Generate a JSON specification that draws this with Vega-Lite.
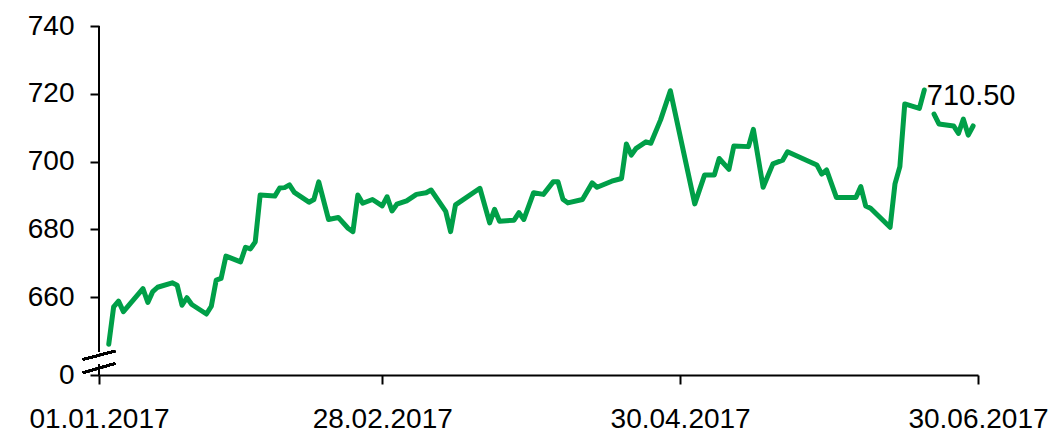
{
  "$schema": "https://vega.github.io/schema/vega-lite/v6.json",
  "width": 879,
  "height": 349,
  "autosize": {"type": "none"},
  "padding": {"left": 99, "top": 26, "right": 75, "bottom": 57},
  "background": "white",
  "config": {
    "view": {"stroke": null},
    "font": "Liberation Sans",
    "axis": {"grid": false, "title": null, "labelColor": "black", "labelFontSize": 28, "labelFont": "Liberation Sans", "tickColor": "black", "tickWidth": 2, "tickSize": 9, "domainColor": "black", "domainWidth": 2, "labelOverlap": false, "labelFlush": false}
  },
  "data": {"values": [
    {"date": "2017-01-03", "value": 646.1, "part": "A"},
    {"date": "2017-01-04", "value": 657.1, "part": "A"},
    {"date": "2017-01-05", "value": 658.8, "part": "A"},
    {"date": "2017-01-06", "value": 655.7, "part": "A"},
    {"date": "2017-01-10", "value": 662.5, "part": "A"},
    {"date": "2017-01-11", "value": 658.4, "part": "A"},
    {"date": "2017-01-12", "value": 661.6, "part": "A"},
    {"date": "2017-01-13", "value": 662.9, "part": "A"},
    {"date": "2017-01-16", "value": 664.2, "part": "A"},
    {"date": "2017-01-17", "value": 663.5, "part": "A"},
    {"date": "2017-01-18", "value": 657.6, "part": "A"},
    {"date": "2017-01-19", "value": 659.8, "part": "A"},
    {"date": "2017-01-20", "value": 657.8, "part": "A"},
    {"date": "2017-01-23", "value": 655.0, "part": "A"},
    {"date": "2017-01-24", "value": 657.3, "part": "A"},
    {"date": "2017-01-25", "value": 665.0, "part": "A"},
    {"date": "2017-01-26", "value": 665.5, "part": "A"},
    {"date": "2017-01-27", "value": 672.1, "part": "A"},
    {"date": "2017-01-30", "value": 670.4, "part": "A"},
    {"date": "2017-01-31", "value": 674.7, "part": "A"},
    {"date": "2017-02-01", "value": 674.2, "part": "A"},
    {"date": "2017-02-02", "value": 676.3, "part": "A"},
    {"date": "2017-02-03", "value": 690.1, "part": "A"},
    {"date": "2017-02-06", "value": 689.8, "part": "A"},
    {"date": "2017-02-07", "value": 692.2, "part": "A"},
    {"date": "2017-02-08", "value": 692.3, "part": "A"},
    {"date": "2017-02-09", "value": 693.1, "part": "A"},
    {"date": "2017-02-10", "value": 690.9, "part": "A"},
    {"date": "2017-02-13", "value": 688.0, "part": "A"},
    {"date": "2017-02-14", "value": 688.8, "part": "A"},
    {"date": "2017-02-15", "value": 694.0, "part": "A"},
    {"date": "2017-02-17", "value": 682.9, "part": "A"},
    {"date": "2017-02-19", "value": 683.5, "part": "A"},
    {"date": "2017-02-21", "value": 680.3, "part": "A"},
    {"date": "2017-02-22", "value": 679.3, "part": "A"},
    {"date": "2017-02-23", "value": 690.1, "part": "A"},
    {"date": "2017-02-24", "value": 687.7, "part": "A"},
    {"date": "2017-02-26", "value": 688.8, "part": "A"},
    {"date": "2017-02-28", "value": 686.9, "part": "A"},
    {"date": "2017-03-01", "value": 689.6, "part": "A"},
    {"date": "2017-03-02", "value": 685.4, "part": "A"},
    {"date": "2017-03-03", "value": 687.4, "part": "A"},
    {"date": "2017-03-05", "value": 688.4, "part": "A"},
    {"date": "2017-03-07", "value": 690.3, "part": "A"},
    {"date": "2017-03-09", "value": 690.8, "part": "A"},
    {"date": "2017-03-10", "value": 691.6, "part": "A"},
    {"date": "2017-03-13", "value": 685.3, "part": "A"},
    {"date": "2017-03-14", "value": 679.3, "part": "A"},
    {"date": "2017-03-15", "value": 687.2, "part": "A"},
    {"date": "2017-03-20", "value": 692.1, "part": "A"},
    {"date": "2017-03-22", "value": 681.9, "part": "A"},
    {"date": "2017-03-23", "value": 685.9, "part": "A"},
    {"date": "2017-03-24", "value": 682.4, "part": "A"},
    {"date": "2017-03-27", "value": 682.7, "part": "A"},
    {"date": "2017-03-28", "value": 684.9, "part": "A"},
    {"date": "2017-03-29", "value": 682.9, "part": "A"},
    {"date": "2017-03-31", "value": 690.8, "part": "A"},
    {"date": "2017-04-02", "value": 690.3, "part": "A"},
    {"date": "2017-04-04", "value": 694.0, "part": "A"},
    {"date": "2017-04-05", "value": 694.0, "part": "A"},
    {"date": "2017-04-06", "value": 688.9, "part": "A"},
    {"date": "2017-04-07", "value": 687.8, "part": "A"},
    {"date": "2017-04-10", "value": 688.8, "part": "A"},
    {"date": "2017-04-12", "value": 693.7, "part": "A"},
    {"date": "2017-04-13", "value": 692.4, "part": "A"},
    {"date": "2017-04-16", "value": 694.2, "part": "A"},
    {"date": "2017-04-18", "value": 695.0, "part": "A"},
    {"date": "2017-04-19", "value": 705.2, "part": "A"},
    {"date": "2017-04-20", "value": 701.9, "part": "A"},
    {"date": "2017-04-21", "value": 703.9, "part": "A"},
    {"date": "2017-04-23", "value": 705.8, "part": "A"},
    {"date": "2017-04-24", "value": 705.4, "part": "A"},
    {"date": "2017-04-26", "value": 712.3, "part": "A"},
    {"date": "2017-04-28", "value": 720.9, "part": "A"},
    {"date": "2017-05-03", "value": 687.5, "part": "A"},
    {"date": "2017-05-05", "value": 696.0, "part": "A"},
    {"date": "2017-05-07", "value": 696.0, "part": "A"},
    {"date": "2017-05-08", "value": 700.9, "part": "A"},
    {"date": "2017-05-10", "value": 697.7, "part": "A"},
    {"date": "2017-05-11", "value": 704.6, "part": "A"},
    {"date": "2017-05-14", "value": 704.4, "part": "A"},
    {"date": "2017-05-15", "value": 709.5, "part": "A"},
    {"date": "2017-05-17", "value": 692.4, "part": "A"},
    {"date": "2017-05-19", "value": 699.3, "part": "A"},
    {"date": "2017-05-21", "value": 700.4, "part": "A"},
    {"date": "2017-05-22", "value": 702.9, "part": "A"},
    {"date": "2017-05-28", "value": 699.0, "part": "A"},
    {"date": "2017-05-29", "value": 696.3, "part": "A"},
    {"date": "2017-05-30", "value": 697.5, "part": "A"},
    {"date": "2017-06-01", "value": 689.4, "part": "A"},
    {"date": "2017-06-05", "value": 689.4, "part": "A"},
    {"date": "2017-06-06", "value": 692.6, "part": "A"},
    {"date": "2017-06-07", "value": 686.9, "part": "A"},
    {"date": "2017-06-08", "value": 686.2, "part": "A"},
    {"date": "2017-06-12", "value": 680.6, "part": "A"},
    {"date": "2017-06-13", "value": 693.4, "part": "A"},
    {"date": "2017-06-14", "value": 698.5, "part": "A"},
    {"date": "2017-06-15", "value": 717.0, "part": "A"},
    {"date": "2017-06-18", "value": 715.7, "part": "A"},
    {"date": "2017-06-19", "value": 721.1, "part": "A"},
    {"date": "2017-06-21", "value": 714.0, "part": "B"},
    {"date": "2017-06-22", "value": 711.1, "part": "B"},
    {"date": "2017-06-25", "value": 710.5, "part": "B"},
    {"date": "2017-06-26", "value": 708.3, "part": "B"},
    {"date": "2017-06-27", "value": 712.5, "part": "B"},
    {"date": "2017-06-28", "value": 707.8, "part": "B"},
    {"date": "2017-06-29", "value": 710.5, "part": "B"}
  ]},
  "layer": [
    {
      "mark": {"type": "line", "color": "#009F48", "strokeWidth": 5, "strokeCap": "round", "strokeJoin": "round"},
      "encoding": {
        "x": {
          "field": "date", "type": "temporal",
          "scale": {"type": "utc", "domain": [{"year": 2017, "month": 1, "date": 1, "utc": true}, {"year": 2017, "month": 6, "date": 30, "utc": true}]},
          "axis": {
            "values": [{"year": 2017, "month": 1, "date": 1, "utc": true}, {"year": 2017, "month": 2, "date": 28, "utc": true}, {"year": 2017, "month": 4, "date": 30, "utc": true}, {"year": 2017, "month": 6, "date": 30, "utc": true}],
            "labelExpr": "utcFormat(datum.value, '%d.%m.%Y')", "labelPadding": 21, "labelBaseline": "top", "title": null
          }
        },
        "y": {
          "field": "value", "type": "quantitative",
          "scale": {"domain": [637, 740], "zero": false, "nice": false},
          "axis": {"values": [637, 660, 680, 700, 720, 740], "labelExpr": "datum.value == 637 ? '0' : datum.label", "domain": false, "labelPadding": 16, "title": null}
        },
        "detail": {"field": "part", "type": "nominal"}
      }
    },
    {
      "transform": [
        {"window": [{"op": "row_number", "as": "rn"}], "sort": [{"field": "date", "order": "descending"}]},
        {"filter": "datum.rn == 1"}
      ],
      "mark": {"type": "text", "fontSize": 29, "color": "black", "align": "center", "baseline": "middle", "dy": -30, "dx": -2},
      "encoding": {
        "x": {"field": "date", "type": "temporal",
          "axis": {
            "values": [{"year": 2017, "month": 1, "date": 1, "utc": true}, {"year": 2017, "month": 2, "date": 28, "utc": true}, {"year": 2017, "month": 4, "date": 30, "utc": true}, {"year": 2017, "month": 6, "date": 30, "utc": true}],
            "labelExpr": "utcFormat(datum.value, '%d.%m.%Y')", "labelPadding": 21, "labelBaseline": "top", "title": null
          }},
        "y": {"field": "value", "type": "quantitative",
          "axis": {"values": [637, 660, 680, 700, 720, 740], "labelExpr": "datum.value == 637 ? '0' : datum.label", "domain": false, "labelPadding": 16, "title": null}},
        "text": {"field": "value", "type": "quantitative", "format": ".2f"}
      }
    },
    {
      "mark": {"type": "rule", "color": "black", "strokeWidth": 2},
      "encoding": {
        "x": {"datum": {"year": 2017, "month": 1, "date": 1, "utc": true}, "type": "temporal"},
        "y": {"datum": 740, "type": "quantitative"},
        "y2": {"datum": 643.8}
      }
    },
    {
      "mark": {"type": "rule", "color": "black", "strokeWidth": 2},
      "encoding": {
        "x": {"datum": {"year": 2017, "month": 1, "date": 1, "utc": true}, "type": "temporal"},
        "y": {"datum": 640.0, "type": "quantitative"},
        "y2": {"datum": 637}
      }
    },
    {
      "mark": {"type": "rule", "color": "black", "strokeWidth": 2},
      "encoding": {
        "x": {"datum": {"year": 2016, "month": 12, "date": 28, "hours": 17, "utc": true}, "type": "temporal"},
        "x2": {"datum": {"year": 2017, "month": 1, "date": 4, "hours": 7, "utc": true}},
        "y": {"datum": 641.6, "type": "quantitative"},
        "y2": {"datum": 644.1}
      }
    },
    {
      "mark": {"type": "rule", "color": "black", "strokeWidth": 2},
      "encoding": {
        "x": {"datum": {"year": 2016, "month": 12, "date": 28, "hours": 17, "utc": true}, "type": "temporal"},
        "x2": {"datum": {"year": 2017, "month": 1, "date": 4, "hours": 7, "utc": true}},
        "y": {"datum": 637.65, "type": "quantitative"},
        "y2": {"datum": 640.4}
      }
    }
  ]
}
